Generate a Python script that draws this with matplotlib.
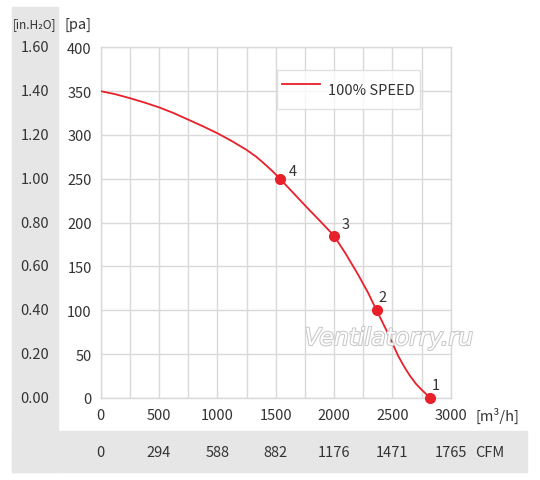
import matplotlib
matplotlib.use('Agg')
import matplotlib.pyplot as plt
import matplotlib.patheffects as pe
from matplotlib.patches import Rectangle
from matplotlib.transforms import blended_transform_factory

plt.rcParams['font.family'] = ['Noto Sans CJK JP', 'DejaVu Sans']

# curve: flow [m3/h] vs pressure [pa]
flow = [0, 125, 250, 375, 500, 625, 750, 875, 1000, 1125, 1250, 1330, 1400, 1470, 1537,
        1650, 1770, 1890, 2000, 2100, 2205, 2290, 2365, 2450, 2550, 2600, 2650, 2700,
        2750, 2825]
pressure = [350, 346.5, 342, 337, 331.5, 325, 317.5, 310, 302, 293, 283, 275.5, 267.5,
            259, 250, 234, 217, 200.5, 185, 164.5, 141, 120.5, 100, 77, 48, 36, 25.5,
            16.5, 9.5, 0]

# numbered operating points
point_ids = ['4', '3', '2', '1']
point_flow = [1537, 2000, 2365, 2825]
point_pa = [250, 185, 100, 0]
label_offsets = [(8.9, 5.5), (8.2, 8.4), (4.5, 9.8), (4.1, 9.6)]

x_ticks = [0, 500, 1000, 1500, 2000, 2500, 3000]
cfm_labels = ['0', '294', '588', '882', '1176', '1471', '1765']
pa_ticks = [0, 50, 100, 150, 200, 250, 300, 350, 400]
inh2o_labels = ['0.00', '0.20', '0.40', '0.60', '0.80', '1.00', '1.20', '1.40', '1.60']

text_color = '#333333'
grid_color = '#d9d9d9'
red = '#e8202a'
band = '#e6e6e6'
fs = 10.5

W, H = 540, 481
fig = plt.figure(figsize=(W / 100, H / 100), dpi=100)

# gray bands (left column and bottom strip)
fig.patches.append(Rectangle((11.7 / W, 1 - 472.7 / H), (58.3 - 11.7) / W, (472.7 - 8) / H,
                             transform=fig.transFigure, color=band, zorder=-2))
fig.patches.append(Rectangle((11.7 / W, 1 - 472.7 / H), (527 - 11.7) / W, (472.7 - 431.7) / H,
                             transform=fig.transFigure, color=band, zorder=-2))

ax = fig.add_axes([100.7 / W, 1 - 399 / H, 350 / W, 350.7 / H])
ax.set_xlim(0, 3000)
ax.set_ylim(0, 400)

ax.set_xticks(x_ticks)
ax.set_xticks(range(250, 3000, 500), minor=True)
ax.set_yticks(pa_ticks)
ax.tick_params(which='both', length=0, labelsize=fs, colors=text_color)
ax.tick_params(axis='x', pad=7.5)
ax.tick_params(axis='y', pad=6.5)
ax.grid(True, which='both', color=grid_color, lw=1)
ax.set_axisbelow(True)
for s in ax.spines.values():
    s.set_color(grid_color)
    s.set_linewidth(1)

ax.plot(flow, pressure, color=red, lw=1.3, label='100% SPEED', zorder=3)
ax.plot(point_flow, point_pa, 'o', color=red, ms=7, zorder=4, clip_on=False)
for lab, fx, fy, off in zip(point_ids, point_flow, point_pa, label_offsets):
    ax.annotate(lab, (fx, fy), xytext=off, textcoords='offset points',
                ha='center', va='center', fontsize=fs, color=text_color, zorder=5)

leg = ax.legend(loc='upper left', bbox_to_anchor=(0.503, 0.936), fontsize=fs,
                frameon=True, fancybox=False, borderpad=0.34, handlelength=2.62,
                handletextpad=0.57, handleheight=2.75, borderaxespad=0)
leg.get_frame().set_edgecolor(grid_color)
leg.get_frame().set_linewidth(1)
for t in leg.get_texts():
    t.set_color(text_color)

# secondary scales: in.H2O on the left, CFM underneath
ty = blended_transform_factory(fig.transFigure, ax.transData)
for v, lab in zip(pa_ticks, inh2o_labels):
    ax.text(35 / W, v, lab, transform=ty, ha='center', va='center',
            fontsize=fs, color=text_color, clip_on=False)

tx = blended_transform_factory(ax.transData, fig.transFigure)
for v, lab in zip(x_ticks, cfm_labels):
    ax.text(v, 1 - 452.7 / H, lab, transform=tx, ha='center', va='center',
            fontsize=fs, color=text_color, clip_on=False)

fig.text(34 / W, 1 - 25 / H, '[in.H₂O]', ha='center', va='center', fontsize=8.5, color=text_color)
fig.text(78 / W, 1 - 25 / H, '[pa]', ha='center', va='center', fontsize=fs, color=text_color)
fig.text(497 / W, 1 - 416 / H, '[m³/h]', ha='center', va='center', fontsize=fs, color=text_color)
fig.text(490 / W, 1 - 452.7 / H, 'CFM', ha='center', va='center', fontsize=fs, color=text_color)

# watermark
fig.text(389 / W, 1 - 339 / H, 'Ventilatorry.ru', ha='center', va='center', fontsize=17,
         style='italic', color='white', family='DejaVu Sans', zorder=6,
         path_effects=[pe.Stroke(linewidth=1.5, foreground='#c8c8c8'), pe.Normal()])

fig.savefig('out.png', dpi=100)
